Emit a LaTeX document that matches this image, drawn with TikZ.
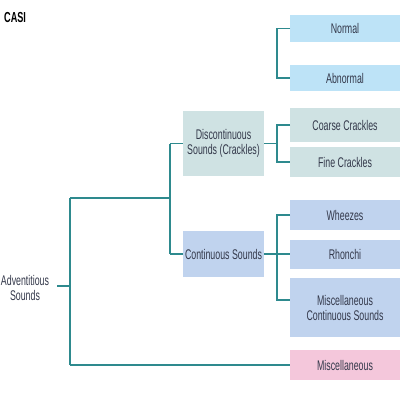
\documentclass[tikz,border=0pt]{standalone}
\usepackage{fontspec}
\setmainfont{Liberation Sans}[FakeStretch=0.63]
\definecolor{lnk}{HTML}{2E8A8E}
\definecolor{txt}{HTML}{33384A}
\definecolor{bnorm}{HTML}{BDE3F7}
\definecolor{bcrack}{HTML}{CFE2E3}
\definecolor{bcont}{HTML}{C0D3EE}
\definecolor{bmisc}{HTML}{F4C7DB}
\tikzset{
  box/.style={inner sep=0pt, outer sep=0pt, align=center, text=txt,
    font=\fontsize{14}{15}\selectfont},
  rbox/.style={box, minimum width=110pt},
  mbox/.style={box, minimum width=81pt},
  link/.style={draw=lnk, line width=1.4pt},
}
\begin{document}
\begin{tikzpicture}[x=1pt,y=-1pt]
\useasboundingbox (0,0) rectangle (400,400);
\fill[white] (0,0) rectangle (400,400);
\node[anchor=west, text=black, font=\fontsize{14.5}{15}\selectfont\bfseries, inner sep=0pt] (casi) at (4,17.5) {CASI};
% right column
\node[rbox, fill=bnorm, minimum height=27pt] (normal) at (345,28.5) {Normal};
\node[rbox, fill=bnorm, minimum height=26pt] (abnormal) at (345,78) {Abnormal};
\node[rbox, fill=bcrack, minimum height=34pt] (coarse) at (345,125) {Coarse Crackles};
\node[rbox, fill=bcrack, minimum height=30pt] (fine) at (345,162) {Fine Crackles};
\node[rbox, fill=bcont, minimum height=30pt] (wheezes) at (345,215) {Wheezes};
\node[rbox, fill=bcont, minimum height=29pt] (rhonchi) at (345,254) {Rhonchi};
\node[rbox, fill=bcont, minimum height=59pt] (misccont) at (345,307.5) {Miscellaneous\\Continuous Sounds};
\node[rbox, fill=bmisc, minimum height=30pt] (misc) at (345,365) {Miscellaneous};
% middle column
\node[mbox, fill=bcrack, minimum height=65pt] (disc) at (223.5,143.5) {Discontinuous\\Sounds (Crackles)};
\node[mbox, fill=bcont, minimum height=46pt] (cont) at (223.5,254) {Continuous Sounds};
% root
\node[box] (adv) at (25,288) {Adventitious\\Sounds};
% junction coordinates
\coordinate (r0) at (57,286);
\coordinate (r1) at (70,286);
\coordinate (rt) at (70,198);
\coordinate (rb) at (70,365);
\coordinate (mt) at (170,198);
\coordinate (md) at (170,143.5);
\coordinate (mc) at (170,254);
\coordinate (na) at (277,28.5);
\coordinate (nb) at (277,78);
\coordinate (da) at (277,125);
\coordinate (dm) at (277,143.5);
\coordinate (db) at (277,162);
\coordinate (ca) at (277,215);
\coordinate (cb) at (277,300);
% connectors
\draw[link] (r0) -- (r1);
\draw[link] (rt) -- (rb);
\draw[link] (rt) -- (mt);
\draw[link] (md) -- (mc);
\draw[link] (md) -- (disc.west);
\draw[link] (mc) -- (cont.west);
\draw[link] (rb) -- (misc.west);
\draw[link] (normal.west) -- (na) -- (nb) -- (abnormal.west);
\draw[link] (disc.east) -- (dm);
\draw[link] (coarse.west) -- (da) -- (db) -- (fine.west);
\draw[link] (cont.east) -- (rhonchi.west);
\draw[link] (wheezes.west) -- (ca) -- (cb) -- (misccont.west |- cb);
\end{tikzpicture}
\end{document}
